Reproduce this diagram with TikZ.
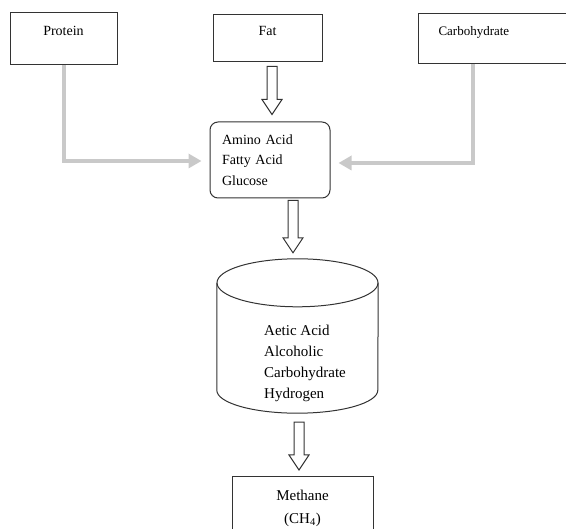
\documentclass[tikz,border=0pt]{standalone}
\usepackage{fontspec}
\setmainfont{Liberation Serif}
\usetikzlibrary{positioning}
\usetikzlibrary{arrows.meta}
\usetikzlibrary{calc}
\tikzset{
    mybox/.style = {rectangle, line width=1pt, draw=black!80, align=center, inner sep=0pt, font=\fontsize{14}{17}\selectfont, text depth=16pt},
    myboxr/.style = {rectangle, rounded corners=8pt, line width=1pt, draw=black!80, align=left, inner xsep=12pt, inner ysep=0pt, text width=96pt, font=\fontsize{14}{20.5}\selectfont},
    myboxb/.style = {rectangle, line width=1pt, draw=black!80, align=center, inner sep=0pt, font=\fontsize{15}{23}\selectfont},
    mytank/.style = {rectangle, draw=none, minimum width=161pt, minimum height=154pt},
    mytext/.style = {align=left, inner sep=0pt, font=\fontsize{15}{21}\selectfont},
    edgen/.style = {line width=1pt, draw=black!80},
    edgeg/.style = {-{Triangle[length=13pt,width=14pt]}, line width=4pt, draw=gray!42},
    edgeh/.style = {line width=1pt, draw=black!80, fill=white,
        to path={let \p1=(\tikztostart), \p2=(\tikztotarget) in
            (\x1-5pt,\y1) -- (\x1-5pt,\y2+15pt) -- (\x1-10pt,\y2+15pt) -- (\x1,\y2)
            -- (\x1+10pt,\y2+15pt) -- (\x1+5pt,\y2+15pt) -- (\x1+5pt,\y1) -- cycle}}
}
\begin{document}
\begin{tikzpicture}[x=1pt,y=1pt]
\useasboundingbox (0,0) rectangle (566,-529);
%
\node[mybox, minimum width=107pt, minimum height=52pt] at (63.5,-39) (protein) {Protein};
\node[mybox, minimum width=109pt, minimum height=47pt, text depth=16pt] at (267.5,-38.5) (fat) {Fat};
\node[mybox, anchor=north west, align=left, text width=152pt, inner xsep=20pt, minimum height=50pt, font=\fontsize{13}{16}\selectfont] at (418,-13) (carb) {Carbohydrate};
\node[myboxr, minimum height=76pt] at (270,-160) (mid) {Amino Acid\\Fatty Acid\\Glucose};
\node[mytank] at (297.5,-336) (tank) {};
\node[mytext, anchor=west] at (264,-363) (tanktext) {Aetic Acid\\Alcoholic\\Carbohydrate\\Hydrogen};
\node[myboxb, anchor=north, minimum width=141pt, minimum height=64pt] at (302.5,-476) (methane) {Methane\\(CH\textsubscript{4})};
%
\draw[edgen] ([yshift=-24pt]tank.north) ellipse [x radius=80.5pt, y radius=24pt];
\draw[edgen] ([yshift=-24pt]tank.north west) -- ([yshift=23pt]tank.south west)
    arc[start angle=180, end angle=360, x radius=80.5pt, y radius=23pt] -- ([yshift=-24pt]tank.north east);
%
\draw[edgeg] (protein.south) |- ([xshift=-8pt,yshift=-1pt]mid.west);
\draw[edgeg] ([xshift=55pt]carb.south west) |- ([xshift=8pt,yshift=-3pt]mid.east);
\draw[edgeh] ([xshift=4.5pt,yshift=-4pt]fat.south) to ([yshift=7pt]mid.north);
\draw[edgeh] ([xshift=23pt,yshift=-2pt]mid.south) to ([yshift=6pt]tank.north);
\draw[edgeh] ([xshift=1.5pt,yshift=-9pt]tank.south) to ([yshift=6pt]methane.north);
\end{tikzpicture}
\end{document}
